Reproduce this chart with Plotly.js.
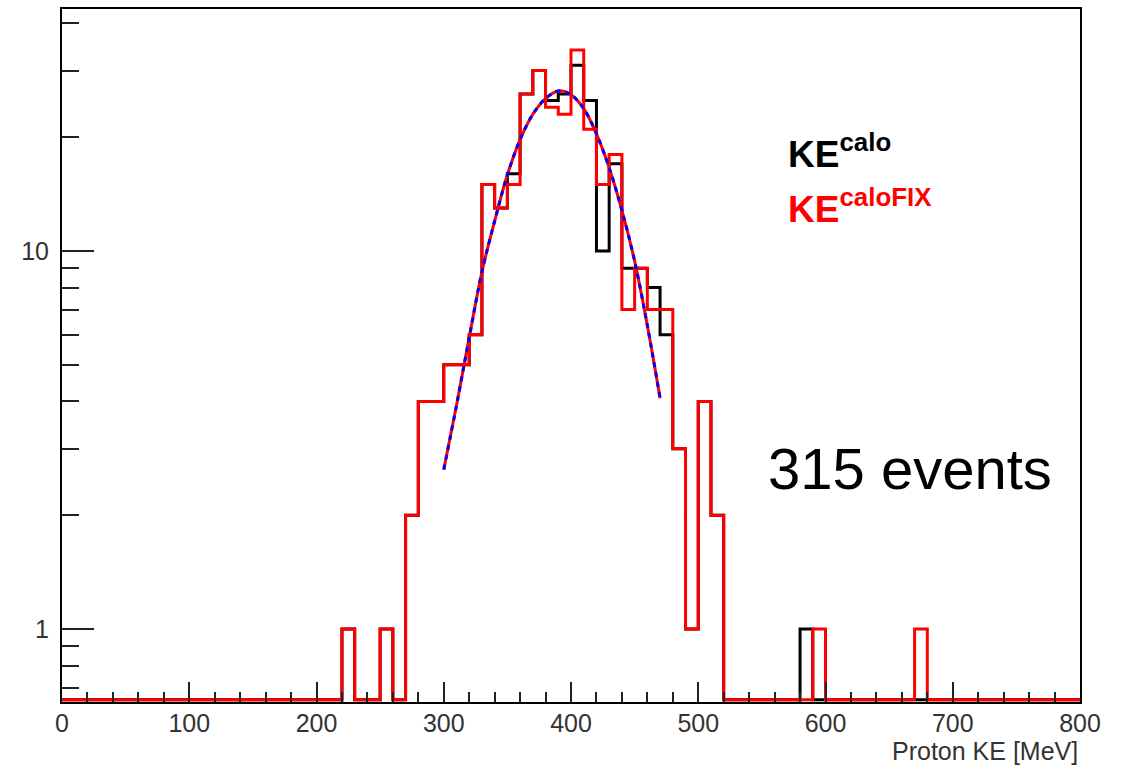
<!DOCTYPE html>
<html>
<head>
<meta charset="utf-8">
<script src="https://cdn.plot.ly/plotly-3.0.1.min.js"></script>
<style>html,body{margin:0;padding:0;background:#fff;}#chart{width:1128px;height:770px;}</style>
</head>
<body>
<div id="chart"></div>
<script>
// Histogram binning: 80 bins of 10 MeV from 0 to 800 MeV
var binWidth = 10;
var xMin = 0, xMax = 800;

// KE^calo counts (black), one value per 10 MeV bin, starting at 0 MeV
var countsCalo = [
  0,0,0,0,0,0,0,0,0,0,        // 0-100
  0,0,0,0,0,0,0,0,0,0,        // 100-200
  0,0,1,0,0,1,0,2,4,4,        // 200-300
  5,5,6,15,13,16,26,30,25,26, // 300-400
  31,25,10,17,9,9,8,6,3,1,    // 400-500
  4,2,0,0,0,0,0,0,1,0,        // 500-600
  0,0,0,0,0,0,0,0,0,0,        // 600-700
  0,0,0,0,0,0,0,0,0,0         // 700-800
];

// KE^caloFIX counts (red)
var countsCaloFix = [
  0,0,0,0,0,0,0,0,0,0,
  0,0,0,0,0,0,0,0,0,0,
  0,0,1,0,0,1,0,2,4,4,
  5,5,6,15,13,15,26,30,24,23,
  34,21,15,18,7,9,7,7,3,1,
  4,2,0,0,0,0,0,0,0,1,
  0,0,0,0,0,0,0,1,0,0,
  0,0,0,0,0,0,0,0,0,0
];

// Gaussian fit curve
var fitX = [300,310,320,330,340,350,360,370,380,390,400,410,420,430,440,450,460,470];
var fitY = [2.64,3.9,5.9,8.8,12.0,15.9,19.7,23.0,25.3,26.5,25.9,23.8,20.4,16.6,12.8,9.4,6.35,4.08];

// Tick labels
var xTickVals = [0,100,200,300,400,500,600,700,800];
var xTickText = ["0","100","200","300","400","500","600","700","800"];
var yTickVals = [1,10];
var yTickText = ["1","10"];
var yMinorVals = [0.7,0.8,0.9,2,3,4,5,6,7,8,9,20,30,40];

var xTitle = "Proton KE [MeV]";
var labelCalo = "<b>KE<sup>calo</sup></b>";
var labelCaloFix = "<b>KE<sup>caloFIX</sup></b>";
var eventsText = "315 events";

// ---- building ----
var yLogRange = [-0.193, 1.640];
var zeroFloor = Math.pow(10, yLogRange[0] + 0.006); // ROOT draws empty bins on the frame bottom

function stepTrace(counts, color) {
  var xs = [], ys = [];
  for (var i = 0; i < counts.length; i++) {
    xs.push(xMin + i * binWidth);
    ys.push(counts[i] > 0 ? counts[i] : zeroFloor);
  }
  xs.push(xMin + counts.length * binWidth);
  ys.push(ys[ys.length - 1]);
  return {
    x: xs, y: ys, type: 'scatter', mode: 'lines',
    line: {shape: 'hv', color: color, width: 3},
    hoverinfo: 'skip', showlegend: false
  };
}

var xMinor = [];
for (var v = xMin; v <= xMax; v += 20) { if (v % 100 !== 0) xMinor.push(v); }

var traces = [
  stepTrace(countsCalo, '#000000'),
  stepTrace(countsCaloFix, '#ff0000'),
  {x: fitX, y: fitY, type: 'scatter', mode: 'lines',
   line: {color: '#ff0000', width: 3, shape: 'spline'}, hoverinfo: 'skip', showlegend: false},
  {x: fitX, y: fitY, type: 'scatter', mode: 'lines',
   line: {color: '#0000ff', width: 3, shape: 'spline', dash: '5px,5px'}, hoverinfo: 'skip', showlegend: false}
];

var fontFam = 'Liberation Sans, Arial, Helvetica, sans-serif';
var L = 62, R = 48, T = 9, B = 68;
var plotW = 1128 - L - R, plotH = 770 - T - B;
function px2paperX(px) { return (px - L) / plotW; }
function px2paperY(py) { return (770 - B - py) / plotH; }

var layout = {
  width: 1128, height: 770,
  margin: {l: L, r: R, t: T, b: B},
  paper_bgcolor: '#ffffff', plot_bgcolor: '#ffffff',
  showlegend: false,
  font: {family: fontFam, color: '#222'},
  xaxis: {
    range: [xMin, xMax], tickmode: 'array', tickvals: xTickVals, ticktext: xTickText,
    ticks: 'inside', ticklen: 20, tickwidth: 2, tickcolor: '#222',
    tickfont: {size: 25, color: '#333', family: fontFam},
    ticklabelstandoff: -2,
    minor: {tickmode: 'array', tickvals: xMinor, ticks: 'inside', ticklen: 10, tickwidth: 2, tickcolor: '#222', showgrid: false},
    showline: true, linecolor: '#000', linewidth: 2, mirror: true,
    showgrid: false, zeroline: false, fixedrange: true
  },
  yaxis: {
    type: 'log', range: yLogRange, tickmode: 'array', tickvals: yTickVals, ticktext: yTickText,
    ticks: 'inside', ticklen: 32, tickwidth: 2, tickcolor: '#222',
    tickfont: {size: 25, color: '#333', family: fontFam},
    ticklabelstandoff: 6,
    minor: {tickmode: 'array', tickvals: yMinorVals, ticks: 'inside', ticklen: 17, tickwidth: 2, tickcolor: '#222', showgrid: false},
    showline: true, linecolor: '#000', linewidth: 2, mirror: true,
    showgrid: false, zeroline: false, fixedrange: true
  },
  annotations: [
    {text: labelCalo, xref: 'paper', yref: 'paper', x: px2paperX(786), y: px2paperY(177),
     xanchor: 'left', yanchor: 'bottom', showarrow: false,
     font: {size: 37, color: '#000', family: fontFam}},
    {text: labelCaloFix, xref: 'paper', yref: 'paper', x: px2paperX(786), y: px2paperY(232),
     xanchor: 'left', yanchor: 'bottom', showarrow: false,
     font: {size: 37, color: '#ff0000', family: fontFam}},
    {text: eventsText, xref: 'paper', yref: 'paper', x: px2paperX(766), y: px2paperY(468),
     xanchor: 'left', yanchor: 'middle', showarrow: false,
     font: {size: 58, color: '#000', family: fontFam}},
    {text: xTitle, xref: 'paper', yref: 'paper', x: 1, y: px2paperY(751),
     xanchor: 'right', yanchor: 'middle', showarrow: false,
     font: {size: 25, color: '#333', family: fontFam}}
  ]
};

Plotly.newPlot('chart', traces, layout, {staticPlot: true, displayModeBar: false});
</script>
</body>
</html>
